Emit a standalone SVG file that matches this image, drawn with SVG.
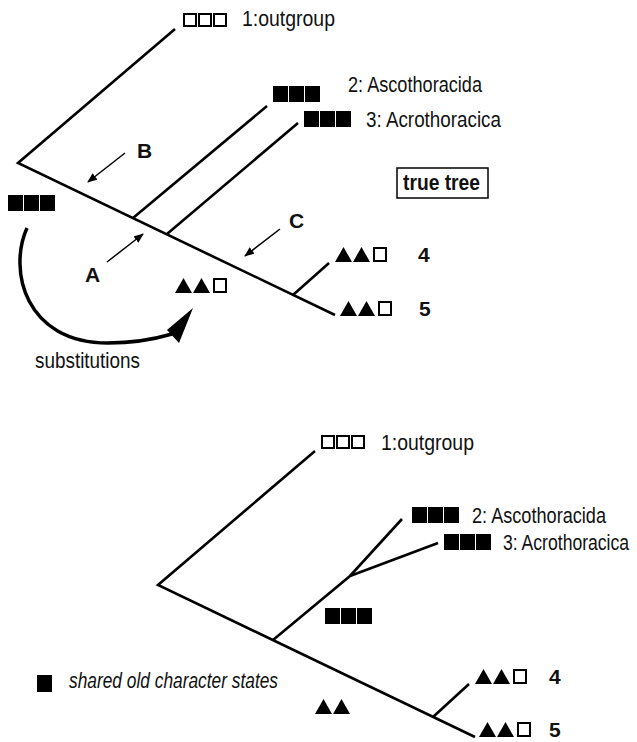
<svg xmlns="http://www.w3.org/2000/svg" xmlns:xlink="http://www.w3.org/1999/xlink" width="637" height="742" viewBox="0 0 637 742">
<style>
.ln{stroke:#000;stroke-width:2.6;fill:none;stroke-linecap:butt}
.ar{stroke:#000;stroke-width:1.5;fill:none}
.t{font-family:"Liberation Sans Narrow","Liberation Sans",Arial,sans-serif;font-size:22px;fill:#111}
.b{font-family:"Liberation Sans",Arial,sans-serif;font-size:21px;font-weight:bold;fill:#111}
.i{font-style:italic}
</style>
<defs>
<marker id="ah" viewBox="0 0 10 8" refX="9" refY="4" markerWidth="10" markerHeight="8" markerUnits="userSpaceOnUse" orient="auto">
<path d="M0,0 L10,4 L0,8 Z" fill="#000"/>
</marker>
<g id="fff"><rect x="0" y="0" width="15" height="16"/><rect x="16" y="0" width="15" height="16"/><rect x="32" y="0" width="15" height="16"/></g>
<g id="ooo" fill="none" stroke="#000" stroke-width="2"><rect x="1" y="1" width="12" height="12"/><rect x="16" y="1" width="12" height="12"/><rect x="31" y="1" width="12" height="12"/></g>
<g id="tt"><polygon points="0,15 8.5,0 17,15"/><polygon points="18,15 26.5,0 35,15"/></g>
<g id="tta"><use xlink:href="#tt"/><rect x="39" y="1" width="12" height="13" fill="none" stroke="#000" stroke-width="2"/></g>
</defs>

<g id="connectors">
<!-- top tree -->
<path class="ln" d="M175,29 L18,163 L335,315"/>
<path class="ln" d="M133,218 L267,106"/>
<path class="ln" d="M167,234 L298,123"/>
<path class="ln" d="M293,295 L329,263"/>
<!-- bottom tree -->
<path class="ln" d="M315,451 L158,585 L475,737"/>
<path class="ln" d="M273,640 L350,576 L402,519"/>
<path class="ln" d="M350,576 L438,543"/>
<path class="ln" d="M433,717 L469,684"/>
<!-- small arrows -->
<path class="ar" d="M125,153 L88,182" marker-end="url(#ah)"/>
<path class="ar" d="M107,262 L143,234" marker-end="url(#ah)"/>
<path class="ar" d="M280,229 L245,256" marker-end="url(#ah)"/>
<!-- substitutions arrow -->
<path d="M27,228 C8,270 25,343 108,343 C135,343 155,339 172,334" fill="none" stroke="#000" stroke-width="3.5"/>
<polygon points="193,308 167,330 179,343"/>
</g>

<g id="n1-top"><use xlink:href="#ooo" x="183" y="13"/><text class="t" x="242" y="26" textLength="93" lengthAdjust="spacingAndGlyphs">1:outgroup</text></g>
<g id="n2-top"><use xlink:href="#fff" x="273" y="86"/><text class="t" x="348" y="92" textLength="134" lengthAdjust="spacingAndGlyphs">2: Ascothoracida</text></g>
<g id="n3-top"><use xlink:href="#fff" x="304" y="111"/><text class="t" x="366" y="127" textLength="135" lengthAdjust="spacingAndGlyphs">3: Acrothoracica</text></g>
<g id="label-true-tree"><rect x="397" y="168" width="91" height="30" fill="none" stroke="#000" stroke-width="1.5"/><text class="t" x="403" y="190" font-weight="bold" font-size="21" textLength="77" lengthAdjust="spacingAndGlyphs">true tree</text></g>
<g id="root-top"><use xlink:href="#fff" x="8" y="195"/></g>
<g id="label-B"><text class="b" x="137" y="158">B</text></g>
<g id="label-A"><text class="b" x="85" y="282">A</text></g>
<g id="label-C"><text class="b" x="289" y="228">C</text></g>
<g id="mid-top"><use xlink:href="#tta" x="175" y="278"/></g>
<g id="n4-top"><use xlink:href="#tta" x="335" y="247"/><text class="b" x="418" y="262">4</text></g>
<g id="n5-top"><use xlink:href="#tta" x="340" y="301"/><text class="b" x="419" y="316">5</text></g>
<g id="label-substitutions"><text class="t" x="35" y="368" textLength="105" lengthAdjust="spacingAndGlyphs">substitutions</text></g>

<g id="n1-bot"><use xlink:href="#ooo" x="321" y="435"/><text class="t" x="381" y="450" textLength="93" lengthAdjust="spacingAndGlyphs">1:outgroup</text></g>
<g id="n2-bot"><use xlink:href="#fff" x="412" y="507"/><text class="t" x="472" y="523" textLength="134" lengthAdjust="spacingAndGlyphs">2: Ascothoracida</text></g>
<g id="n3-bot"><use xlink:href="#fff" x="444" y="534"/><text class="t" transform="translate(503,550) scale(0.8,1)">3: Acrothoracica</text></g>
<g id="mid-bot-squares"><use xlink:href="#fff" x="325" y="608"/></g>
<g id="mid-bot-triangles"><use xlink:href="#tt" x="315" y="699"/></g>
<g id="n4-bot"><use xlink:href="#tta" x="475" y="669"/><text class="b" x="549" y="684">4</text></g>
<g id="n5-bot"><use xlink:href="#tta" x="479" y="722"/><text class="b" x="549" y="737">5</text></g>
<g id="legend"><rect x="37" y="675" width="15" height="17"/><text class="t i" x="69" y="688" textLength="209" lengthAdjust="spacingAndGlyphs">shared old character states</text></g>
</svg>
